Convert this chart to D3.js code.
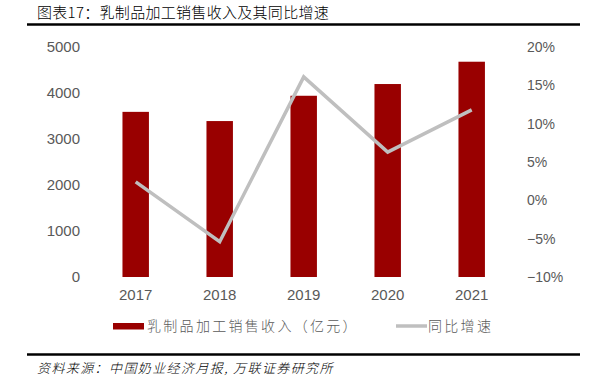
<!DOCTYPE html>
<html>
<head>
<meta charset="utf-8">
<script src="https://cdn.jsdelivr.net/npm/d3@7"></script>
<style>
  body { margin: 0; background: #fff; }
  text { font-family: "Liberation Sans", Arial, sans-serif; }
  .cjk { font-family: "Noto Sans CJK SC", sans-serif; }
</style>
</head>
<body>
<script>
var width = 599,
    height = 384;

// data
var years = ["2017", "2018", "2019", "2020", "2021"];
var revenue = [3590, 3390, 3940, 4195, 4680];   // 亿元
var growth = [2.4, -5.4, 16.1, 6.3, 11.8];       // %
var leftTicks = [0, 1000, 2000, 3000, 4000, 5000];
var rightTicks = [-10, -5, 0, 5, 10, 15, 20];

var barColor = "#990000",
    lineColor = "#BFBFBF",
    tickColor = "#595959";

var svg = d3.select("body").append("svg")
    .attr("width", width)
    .attr("height", height);

// title and rules
svg.append("text")
    .attr("class", "cjk")
    .attr("x", 37).attr("y", 18)
    .attr("font-size", "15px")
    .attr("font-weight", 300)
    .attr("letter-spacing", "0.3px")
    .attr("fill", "#000")
    .text("图表17：乳制品加工销售收入及其同比增速");

svg.append("line")
    .attr("x1", 27).attr("x2", 580)
    .attr("y1", 24.5).attr("y2", 24.5)
    .attr("stroke", "#000").attr("stroke-width", 2.5);

svg.append("line")
    .attr("x1", 27).attr("x2", 580)
    .attr("y1", 354.5).attr("y2", 354.5)
    .attr("stroke", "#000").attr("stroke-width", 2.5);

svg.append("text")
    .attr("class", "cjk")
    .attr("x", 37).attr("y", 373)
    .attr("font-size", "13px")
    .attr("font-weight", 300)
    .attr("font-style", "italic")
    .attr("letter-spacing", "1.4px")
    .attr("fill", "#000")
    .text("资料来源：中国奶业经济月报, 万联证券研究所");

// scales
var x = d3.scaleBand()
    .domain(years)
    .range([93.7, 513.7])
    .paddingInner(0.685)
    .paddingOuter(0.3425);

var yL = d3.scaleLinear().domain([0, 5000]).range([277, 47]);
var yR = d3.scaleLinear().domain([-10, 20]).range([277, 47]);

// axes (labels only)
var leftAxis = svg.append("g")
    .attr("transform", "translate(86,0)")
    .call(d3.axisLeft(yL).tickValues(leftTicks).tickSize(0).tickPadding(6)
        .tickFormat(d3.format("d")));

var rightAxis = svg.append("g")
    .attr("transform", "translate(521,0)")
    .call(d3.axisRight(yR).tickValues(rightTicks).tickSize(0).tickPadding(6)
        .tickFormat(function(d) { return (d < 0 ? "\u2212" + Math.abs(d) : d) + "%"; }));

var bottomAxis = svg.append("g")
    .attr("transform", "translate(0,286)")
    .call(d3.axisBottom(x).tickSize(0).tickPadding(3));

[leftAxis, rightAxis, bottomAxis].forEach(function(g, k) {
    g.select(".domain").remove();
    g.selectAll("text")
        .attr("font-family", "'Liberation Sans', Arial, sans-serif")
        .attr("font-size", k === 1 ? "14px" : "15px")
        .attr("fill", tickColor);
});

// bars
svg.append("g").selectAll("rect")
    .data(years)
    .enter().append("rect")
    .attr("x", function(d) { return x(d); })
    .attr("width", x.bandwidth())
    .attr("y", function(d, i) { return yL(revenue[i]); })
    .attr("height", function(d, i) { return yL(0) - yL(revenue[i]); })
    .attr("fill", barColor);

// growth line
var line = d3.line()
    .x(function(d, i) { return x(years[i]) + x.bandwidth() / 2; })
    .y(function(d) { return yR(d); });

svg.append("path")
    .datum(growth)
    .attr("d", line)
    .attr("fill", "none")
    .attr("stroke", lineColor)
    .attr("stroke-width", 3.5)
    .attr("stroke-linejoin", "miter");

// legend
var legend = svg.append("g");
legend.append("rect")
    .attr("x", 113).attr("y", 323)
    .attr("width", 31).attr("height", 6.5)
    .attr("fill", barColor);
legend.append("text")
    .attr("class", "cjk")
    .attr("x", 147).attr("y", 331)
    .attr("font-size", "14px")
    .attr("font-weight", 300)
    .attr("letter-spacing", "2.3px")
    .attr("fill", tickColor)
    .text("乳制品加工销售收入（亿元）");

legend.append("line")
    .attr("x1", 396).attr("x2", 427)
    .attr("y1", 326).attr("y2", 326)
    .attr("stroke", lineColor).attr("stroke-width", 3.5);
legend.append("text")
    .attr("class", "cjk")
    .attr("x", 428).attr("y", 331)
    .attr("font-size", "14px")
    .attr("font-weight", 300)
    .attr("letter-spacing", "2.3px")
    .attr("fill", tickColor)
    .text("同比增速");
</script>
</body>
</html>
